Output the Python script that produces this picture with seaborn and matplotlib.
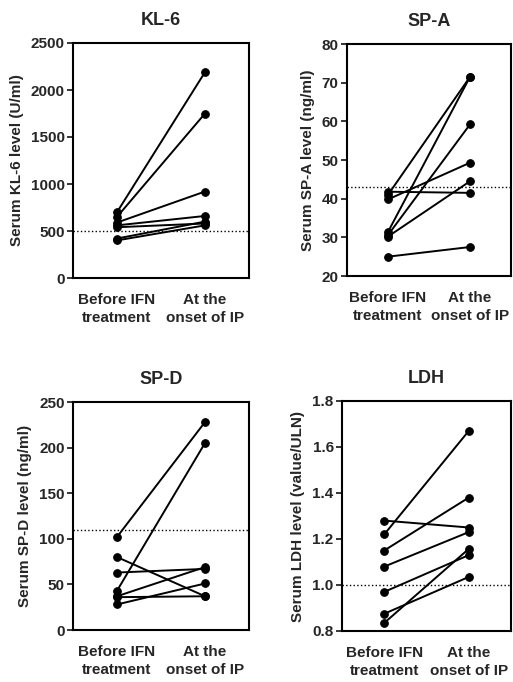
import numpy as np
import pandas as pd
import matplotlib.pyplot as plt
import seaborn as sns

# values (one pair per patient)
kl6_before = [700, 650, 590, 560, 540, 420, 400]
kl6_after = [2190, 1750, 920, 660, 580, 600, 560]
spa_before = [25.0, 41.8, 41.0, 39.8, 31.4, 30.6, 30.2]
spa_after = [27.5, 41.5, 71.5, 49.3, 71.5, 59.2, 44.5]
spd_before = [102, 43, 80, 63, 37, 36, 28]
spd_after = [228, 205, 37, 67, 69, 37, 51]
ldh_before = [1.28, 1.22, 1.15, 1.08, 0.97, 0.875, 0.835]
ldh_after = [1.25, 1.67, 1.38, 1.23, 1.13, 1.035, 1.157]

time_labels = ['Before IFN\ntreatment', 'At the\nonset of IP']

sns.set_style('white')
plt.rcParams['font.family'] = ['Liberation Sans', 'DejaVu Sans']
plt.rcParams['font.weight'] = 'bold'


def make_df(before, after):
    rows = []
    for i, (b, a) in enumerate(zip(before, after)):
        rows.append({'patient': i, 'time': 0, 'value': b})
        rows.append({'patient': i, 'time': 1, 'value': a})
    return pd.DataFrame(rows)


def draw(ax, before, after, title, ylabel, ylim, yticks, ref, fmt):
    df = make_df(before, after)
    sns.lineplot(data=df, x='time', y='value', units='patient', estimator=None,
                 color='black', lw=1.4, marker='o', markersize=5.5,
                 markeredgecolor='black', ax=ax)
    ax.axhline(ref, color='black', lw=1, ls=':')
    ax.set_xlim(-0.5, 1.5)
    ax.set_ylim(*ylim)
    ax.set_yticks(yticks)
    ax.set_yticklabels([fmt.format(t) for t in yticks], fontsize=11, fontweight='bold')
    ax.set_xticks([0, 1])
    ax.set_xticklabels(time_labels, fontsize=11, fontweight='bold', linespacing=1.35)
    ax.tick_params(axis='y', direction='out', length=4, width=1.3, left=True, pad=2)
    ax.tick_params(axis='x', length=0, pad=11)
    ax.set_xlabel('')
    ax.set_ylabel(ylabel, fontsize=11, fontweight='bold', labelpad=5)
    ax.set_title(title, fontsize=13, fontweight='bold', pad=13)
    for s in ax.spines.values():
        s.set_color('black')
        s.set_linewidth(1.5)


fig = plt.figure(figsize=(5.13, 6.82), dpi=100)
W, H = 513, 682
ax1 = fig.add_axes([73 / W, 1 - 278 / H, 176 / W, 235 / H])
ax2 = fig.add_axes([347 / W, 1 - 276 / H, 164 / W, 232 / H])
ax3 = fig.add_axes([73 / W, 1 - 630 / H, 176 / W, 228 / H])
ax4 = fig.add_axes([342 / W, 1 - 631 / H, 169 / W, 230 / H])

draw(ax1, kl6_before, kl6_after, 'KL-6', 'Serum KL-6 level (U/ml)',
     (0, 2500), [0, 500, 1000, 1500, 2000, 2500], 500, '{:.0f}')
draw(ax2, spa_before, spa_after, 'SP-A', 'Serum SP-A level (ng/ml)',
     (20, 80), [20, 30, 40, 50, 60, 70, 80], 43, '{:.0f}')
draw(ax3, spd_before, spd_after, 'SP-D', 'Serum SP-D level (ng/ml)',
     (0, 250), [0, 50, 100, 150, 200, 250], 110, '{:.0f}')
draw(ax4, ldh_before, ldh_after, 'LDH', 'Serum LDH level (value/ULN)',
     (0.8, 1.8), [0.8, 1.0, 1.2, 1.4, 1.6, 1.8], 1.0, '{:.1f}')

fig.savefig('out.png', dpi=100)
